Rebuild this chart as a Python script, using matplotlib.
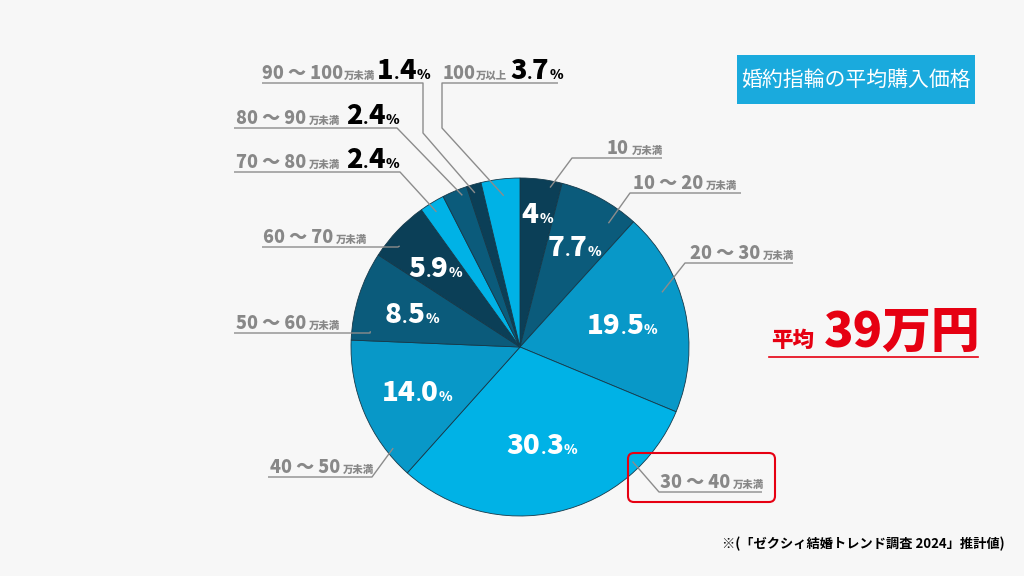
import matplotlib
matplotlib.use('Agg')
import matplotlib.pyplot as plt
import numpy as np
from matplotlib.patches import Rectangle, FancyBboxPatch

plt.rcParams['font.family'] = ['Noto Sans CJK JP', 'DejaVu Sans']

# ---------------- data ----------------
range_nums = ['10', '10 ～ 20', '20 ～ 30', '30 ～ 40', '40 ～ 50', '50 ～ 60',
              '60 ～ 70', '70 ～ 80', '80 ～ 90', '90 ～ 100', '100']
range_units = ['万未満'] * 10 + ['万以上']
values = [4.0, 7.7, 19.5, 30.3, 14.0, 8.5, 5.9, 2.4, 2.4, 1.4, 3.7]
value_labels = ['4', '7.7', '19.5', '30.3', '14.0', '8.5', '5.9', '2.4', '2.4', '1.4', '3.7']
title = '婚約指輪の平均購入価格'
avg_label = '平均'
avg_value = '39万円'
note = '※(「ゼクシィ結婚トレンド調査 2024」推計値)'

# ---------------- style / layout ----------------
DARK, MIDDARK, MID, LIGHT = '#0b3f57', '#0b5b7b', '#0898c8', '#00b2e6'
colors = [DARK, MIDDARK, MID, LIGHT, MID, MIDDARK, DARK, LIGHT, MIDDARK, DARK, LIGHT]
inside = [True] * 7 + [False] * 4
in_r = [0.80, 0.68, 0.62, 0.59, 0.66, 0.67, 0.69]

lab_y = [158, 193, 263, 492, 477, 333, 247, 172, 128, 83, 83]
lab_x0 = [572, 630, 685, 659, 268, 234, 262, 234, 234, 262, 442]
lab_x1 = [662, 741, 793, 762, 372, 370, 398, 400, 397, 423, 558]
text_x = [607, 633, 690, 660, 270, 236, 263, 236, 236, 262, 443]
elbow = ['L', 'L', 'L', 'L', 'R', 'R', 'R', 'R', 'R', 'R', 'L']
drop = [None] * 9 + [133, 128]
anchor_frac = [0.74, 0.76, 0.38, 0.21, 0.19, 0.12, 0.33, 0.46, 0.72, 0.41, 0.54]
anchor_r = [0.96, 0.90, 0.90, 0.95, 0.96, 0.89, 0.93, 0.94, 0.96, 0.95, 0.90]
unit_gap = [3] * 9 + [1, 0]
pct_gap = [0] * 7 + [6, 6, 2, 3]

W, H = 1024, 576
CX, CY, R = 520, 347, 169
GREY_TXT = '#888888'
LINE = '#8c8c8c'
RED = '#e60012'

fig = plt.figure(figsize=(W / 100, H / 100), dpi=100)
fig.patch.set_facecolor('#f7f7f7')
ax = fig.add_axes([0, 0, 1, 1])


def P(x, y):
    return (x, H - y)


wedges, _ = ax.pie(values, colors=colors, startangle=90, counterclock=False,
                   center=P(CX, CY), radius=R, normalize=True,
                   wedgeprops=dict(edgecolor='#15394a', linewidth=0.6))
ax.set_xlim(0, W)
ax.set_ylim(0, H)
ax.set_aspect('equal')
ax.axis('off')
ax.set_facecolor('#f7f7f7')

renderer = fig.canvas.get_renderer()


def chain(x, y, pieces, ha='left', weight='bold'):
    """pieces: (text, size, color, gap_before)"""
    items = []
    total = 0
    for s, size, color, gap in pieces:
        t = ax.text(0, 0, s, fontsize=size, color=color, fontweight=weight,
                    va='baseline', ha='left', zorder=6)
        w = t.get_window_extent(renderer).width
        items.append((t, w, gap))
        total += w + gap
    if ha == 'center':
        x0 = x - total / 2
    elif ha == 'right':
        x0 = x - total
    else:
        x0 = x
    for t, w, gap in items:
        x0 += gap
        t.set_position((x0, y))
        x0 += w
    return total


def pct_pieces(lbl, big, dot, pct, color):
    if '.' in lbl:
        a, b = lbl.split('.')
        return [(a, big, color, 0), ('.', dot, color, 0), (b, big, color, 0), ('%', pct, color, 1)]
    return [(lbl, big, color, 0), ('%', pct, color, 1)]


def wedge_point(w, frac, rfrac):
    ang = np.deg2rad(w.theta2 - frac * (w.theta2 - w.theta1))
    cx, cy = w.center
    return cx + rfrac * R * np.cos(ang), cy + rfrac * R * np.sin(ang)


# in-pie labels
for i, w in enumerate(wedges):
    if not inside[i]:
        continue
    x, y = wedge_point(w, 0.5, in_r[i])
    cap = 0.73 * 20 * 100 / 72
    chain(x, y - cap / 2, pct_pieces(value_labels[i], 20, 11, 10, 'white'),
          ha='center', weight='heavy')

# outer labels + leader lines
for i, w in enumerate(wedges):
    ax_, ay_ = wedge_point(w, anchor_frac[i], anchor_r[i])
    yy = H - lab_y[i]
    if elbow[i] == 'L':
        xe, xo = lab_x0[i], lab_x1[i]
    else:
        xe, xo = lab_x1[i], lab_x0[i]
    pts = [(ax_, ay_)]
    if drop[i] is not None:
        pts.append((xe, H - drop[i]))
    pts += [(xe, yy), (xo, yy)]
    xs, ys = zip(*pts)
    ax.plot(xs, ys, color=LINE, lw=1.0, zorder=5, solid_capstyle='butt')

    w1 = chain(text_x[i], yy + 4,
               [(range_nums[i], 13, GREY_TXT, 0), (range_units[i], 7.5, GREY_TXT, unit_gap[i])],
               weight='heavy')
    if not inside[i]:
        pp = pct_pieces(value_labels[i], 19.5, 11, 10, 'black')
        chain(text_x[i] + w1 + pct_gap[i], yy + 4, pp, weight='heavy')

# title box
ax.add_patch(Rectangle(P(737, 104), 238, 49, facecolor='#1aaadd', edgecolor='none', zorder=4))
ax.text(856, H - 80, title, fontsize=15, color='white', ha='center', va='center', zorder=6)

# average
chain(771, H - 347, [(avg_label, 15.5, RED, 0), (avg_value, 35, RED, 10)], weight='heavy')
ax.plot([769, 978], [H - 357, H - 357], color=RED, lw=1.2, zorder=5)

# highlight box around 30-40 label
ax.add_patch(FancyBboxPatch(P(628, 502), 147, 49,
                            boxstyle='round,pad=0,rounding_size=6',
                            facecolor='none', edgecolor=RED, lw=1.5, zorder=7))

# footnote
ax.text(1005, H - 548, note, fontsize=9.5, color='black', fontweight='bold',
        ha='right', va='baseline', zorder=6)

fig.savefig('out.png', dpi=100, facecolor=fig.get_facecolor())
